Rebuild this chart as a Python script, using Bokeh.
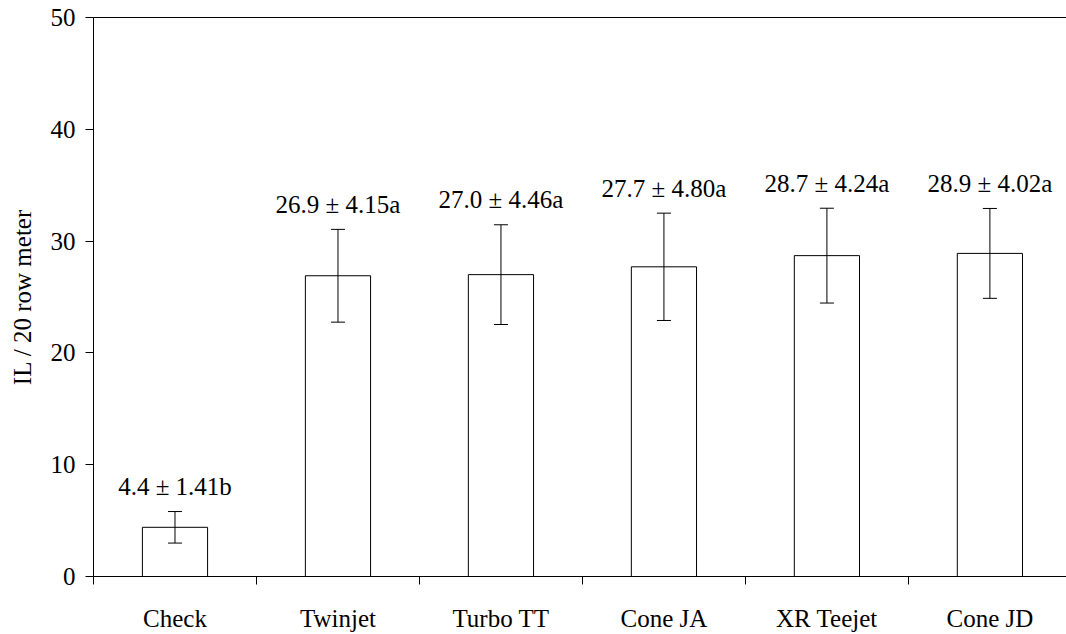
from bokeh.plotting import figure
from bokeh.models import ColumnDataSource, Range1d, FixedTicker, LinearAxis
from bokeh.core.properties import value
from bokeh.embed import file_html
from bokeh.resources import INLINE

categories = ["Check", "Twinjet", "Turbo TT", "Cone JA", "XR Teejet", "Cone JD"]
means = [4.4, 26.9, 27.0, 27.7, 28.7, 28.9]
errors = [1.41, 4.15, 4.46, 4.80, 4.24, 4.02]
letters = ["b", "a", "a", "a", "a", "a"]
y_ticks = [0, 10, 20, 30, 40, 50]

FONT = "Liberation Serif"
FS = "25px"

xs = [i + 0.5 for i in range(len(categories))]
labels = [f"{m:.1f} \u00b1 {e:.2f}{l}" for m, e, l in zip(means, errors, letters)]
cap = 0.043
src = ColumnDataSource(dict(
    x=xs, top=means,
    lo=[m - e for m, e in zip(means, errors)],
    hi=[m + e for m, e in zip(means, errors)],
    cl=[x - cap for x in xs], cr=[x + cap for x in xs],
    label=labels,
))

p = figure(width=1066, height=634, output_backend="svg", toolbar_location=None,
           x_range=Range1d(0, 5.97), y_range=Range1d(0, 50),
           min_border_left=93, min_border_right=0, min_border_top=17, min_border_bottom=54)
p.outline_line_color = None
p.xgrid.visible = False
p.ygrid.visible = False
p.background_fill_color = "white"
p.border_fill_color = "white"

p.vbar(x="x", top="top", width=0.4, bottom=0, source=src,
       fill_color="white", line_color="black", line_width=1)
p.segment(x0="x", y0="lo", x1="x", y1="hi", source=src, line_color="black", line_width=1)
p.segment(x0="cl", y0="lo", x1="cr", y1="lo", source=src, line_color="black", line_width=1)
p.segment(x0="cl", y0="hi", x1="cr", y1="hi", source=src, line_color="black", line_width=1)
p.text(x="x", y="hi", text="label", source=src, y_offset=-25,
       text_align="center", text_baseline="alphabetic",
       text_font=value(FONT), text_font_size=FS, text_color="black")

# Y axis
ya = p.yaxis[0]
ya.ticker = FixedTicker(ticks=y_ticks)
ya.minor_tick_line_color = None
ya.major_tick_out = 8
ya.major_tick_in = 0
ya.major_label_standoff = 10
ya.major_label_text_font = FONT
ya.major_label_text_font_size = FS
ya.major_label_text_color = "black"
ya.axis_label = "IL / 20 row meter"
ya.axis_label_text_font = FONT
ya.axis_label_text_font_size = FS
ya.axis_label_text_font_style = "normal"
ya.axis_label_text_color = "black"
ya.axis_label_standoff = 12
ya.axis_line_color = "black"
ya.major_tick_line_color = "black"

# X axis
xa = p.xaxis[0]
xa.ticker = FixedTicker(ticks=xs, minor_ticks=list(range(len(categories) + 1)))
xa.major_label_overrides = {x: c for x, c in zip(xs, categories)}
xa.major_tick_line_color = None
xa.major_tick_out = 0
xa.major_tick_in = 0
xa.minor_tick_out = 8
xa.minor_tick_in = 0
xa.minor_tick_line_color = "black"
xa.major_label_standoff = 20
xa.major_label_text_font = FONT
xa.major_label_text_font_size = FS
xa.major_label_text_color = "black"
xa.axis_line_color = "black"

# Top border line
top = LinearAxis(major_tick_line_color=None, minor_tick_line_color=None,
                 major_label_text_font_size="0px", axis_line_color="black")
top.ticker = FixedTicker(ticks=[])
p.add_layout(top, "above")

open("out.html", "w").write(file_html(p, INLINE))
